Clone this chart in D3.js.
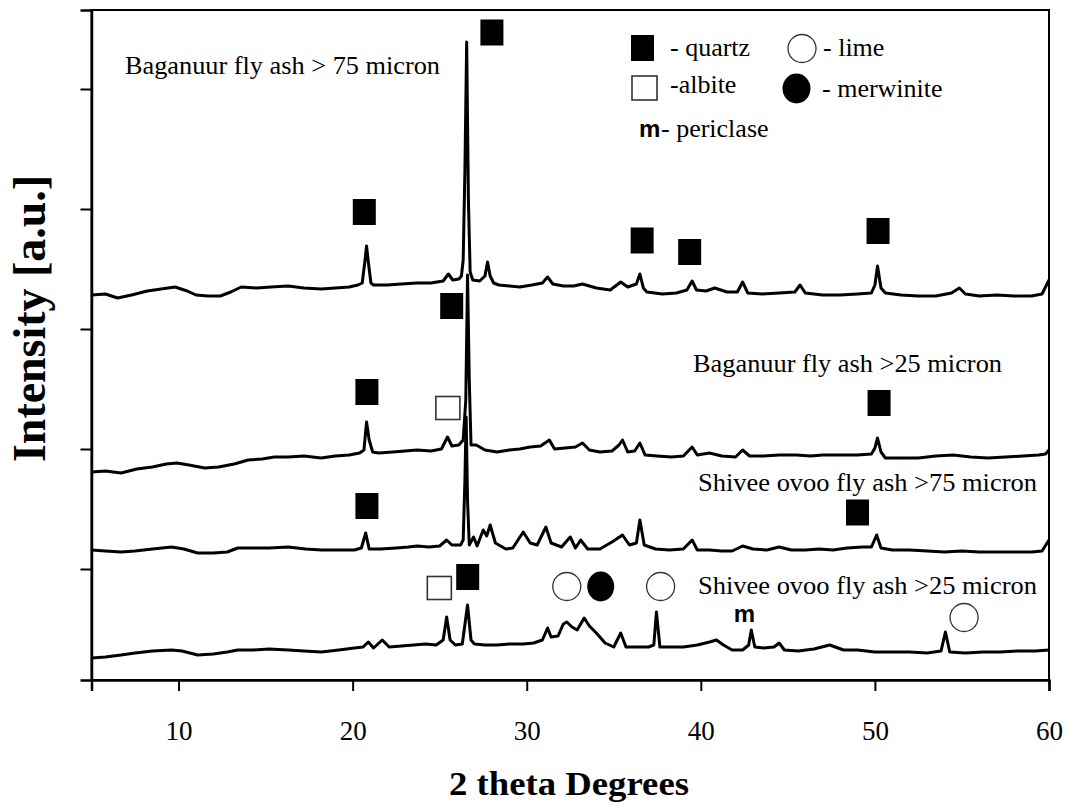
<!DOCTYPE html>
<html><head><meta charset="utf-8">
<script src="https://cdn.jsdelivr.net/npm/d3@7"></script>
<style>body{margin:0;background:#fff}svg{display:block}
.serif{font-family:"Liberation Serif","Times New Roman",Times,serif}
.sans{font-family:"Liberation Sans",Arial,Helvetica,sans-serif}</style>
</head><body><svg id="chart" width="1067" height="806"></svg>
<script>
// ---- data (2-theta degrees, intensity a.u. with stacking offset) ----
const xTicks = [10, 20, 30, 40, 50, 60];
const yTicks = [120, 240, 360, 480, 600];

const baganuur75 = [[5.0,394],[5.8,395],[6.5,391],[7.3,394],[8.2,398],[9.0,400],[9.8,402],[10.5,398],[11.0,394],[11.7,393],[12.4,393],[13.0,397],[13.6,402],[14.5,401],[15.3,402],[16.3,403],[17.2,401],[18.2,400],[19.0,401],[19.8,402],[20.3,404],[20.55,406],[20.7,427],[20.8,443],[20.9,427],[21.05,406],[21.2,404],[22.0,404],[22.8,405],[23.7,406],[24.5,406],[25.2,408],[25.5,415],[25.75,409],[26.1,410],[26.25,413],[26.35,429],[26.45,519],[26.55,647],[26.65,489],[26.75,417],[26.9,409],[27.3,408],[27.6,413],[27.75,427],[27.9,413],[28.1,406],[28.4,404],[29.0,403],[29.6,402],[30.3,404],[30.9,406],[31.2,412],[31.5,405],[32.1,403],[32.7,403],[33.2,405],[34.0,401],[34.8,399],[35.4,407],[35.8,402],[36.3,405],[36.5,415],[36.7,401],[36.9,397],[37.8,395],[38.6,396],[39.2,399],[39.5,408],[39.75,399],[40.3,398],[40.8,401],[41.5,397],[42.1,397],[42.4,407],[42.7,396],[43.5,395],[44.5,396],[45.4,397],[45.7,404],[46.0,396],[47.0,394],[48.0,394],[49.0,395],[49.8,396],[50.0,404],[50.15,423],[50.35,401],[50.6,396],[51.5,394],[52.5,393],[53.5,393],[54.4,396],[54.85,401],[55.2,395],[56.0,393],[57.0,394],[58.0,393],[59.0,393],[59.6,395],[60.0,409]];

const baganuur25 = [[5.0,217],[5.8,218],[6.7,216],[7.6,220],[8.5,222],[9.3,225],[9.9,226],[10.6,224],[11.5,221],[12.3,222],[13.2,225],[14.0,229],[14.8,230],[15.5,232],[16.3,232],[17.2,233],[18.2,231],[19.0,233],[19.8,234],[20.4,236],[20.65,239],[20.8,267],[20.95,249],[21.15,237],[21.5,236],[22.3,237],[23.0,238],[23.7,239],[24.5,238],[25.1,240],[25.45,252],[25.7,243],[26.1,244],[26.35,249],[26.5,289],[26.6,414],[26.7,309],[26.8,244],[27.1,244],[27.6,239],[28.3,237],[29.0,239],[29.6,240],[30.2,242],[30.8,243],[31.3,249],[31.6,240],[32.2,241],[32.8,242],[33.2,246],[33.6,239],[34.2,237],[34.9,238],[35.3,244],[35.5,249],[35.8,237],[36.2,238],[36.5,246],[36.8,234],[37.5,233],[38.3,232],[39.0,233],[39.5,242],[39.8,234],[40.5,236],[41.2,233],[42.0,232],[42.4,239],[42.8,233],[43.6,233],[44.5,234],[45.5,234],[46.3,233],[47.0,234],[48.0,234],[49.0,234],[49.8,235],[50.0,241],[50.15,251],[50.35,237],[50.6,231],[51.5,231],[52.5,231],[53.5,233],[54.5,234],[55.5,232],[56.5,231],[57.5,232],[58.5,233],[59.4,234],[59.8,235],[60.0,239]];

const shivee75 = [[5.0,139],[5.8,138],[6.7,137],[7.5,138],[8.5,140],[9.6,142],[10.3,140],[11.1,136],[12.0,136],[12.8,137],[13.4,141],[14.2,141],[15.2,141],[16.3,142],[17.3,140],[18.2,139],[19.2,139],[20.1,139],[20.5,141],[20.75,156],[20.95,140],[21.6,140],[22.5,141],[23.2,142],[23.7,143],[24.4,142],[25.0,143],[25.4,149],[25.7,144],[26.2,144],[26.35,149],[26.45,209],[26.52,272],[26.6,189],[26.7,144],[26.95,152],[27.15,143],[27.5,159],[27.7,153],[27.9,164],[28.2,146],[28.8,140],[29.2,141],[29.8,157],[30.2,146],[30.6,144],[31.1,162],[31.4,146],[32.0,142],[32.5,152],[32.8,141],[33.1,149],[33.5,140],[34.2,140],[34.9,147],[35.5,154],[35.9,144],[36.3,146],[36.5,169],[36.75,144],[37.4,140],[38.2,139],[39.0,140],[39.5,149],[39.8,139],[40.5,139],[41.2,138],[41.8,138],[42.4,143],[43.0,140],[43.8,139],[44.5,142],[45.2,139],[46.0,139],[46.8,140],[47.6,139],[48.4,141],[49.3,142],[49.8,142],[50.1,154],[50.35,141],[51.0,139],[52.0,139],[53.0,138],[54.0,137],[55.0,138],[56.0,137],[57.0,137],[58.0,137],[59.0,137],[59.6,138],[60.0,149]];

const shivee25 = [[5.0,31],[5.8,32],[6.7,34],[7.5,36],[8.5,38],[9.6,39],[10.2,38],[11.1,34],[12.0,35],[12.8,37],[13.4,39],[14.3,39],[15.2,40],[16.3,39],[17.2,38],[18.2,37],[19.2,39],[20.1,41],[20.6,42],[20.9,47],[21.2,41],[21.7,49],[22.1,42],[22.8,43],[23.5,44],[24.2,45],[24.8,44],[25.2,49],[25.4,72],[25.6,49],[25.9,44],[26.3,45],[26.6,84],[26.8,49],[27.0,45],[27.6,44],[28.3,44],[29.0,45],[29.8,45],[30.4,46],[30.9,49],[31.2,61],[31.4,52],[31.8,53],[32.1,65],[32.3,67],[32.6,62],[32.9,59],[33.3,71],[33.6,63],[34.0,56],[34.5,46],[35.0,42],[35.4,56],[35.7,42],[36.3,42],[37.0,42],[37.3,44],[37.45,77],[37.65,42],[38.3,42],[39.0,42],[39.8,44],[40.5,47],[40.9,49],[41.3,44],[41.8,39],[42.4,39],[42.75,44],[42.9,59],[43.1,42],[43.6,41],[44.2,42],[44.5,46],[44.8,39],[45.6,38],[46.5,40],[47.4,44],[48.2,39],[49.0,39],[50.0,37],[51.0,37],[52.0,37],[53.0,36],[53.8,38],[54.05,57],[54.3,37],[55.2,36],[56.2,37],[57.2,37],[58.2,38],[59.2,38],[60.0,39]];

const traceNames = ["Baganuur fly ash > 75 micron", "Baganuur fly ash >25 micron", "Shivee ovoo fly ash >75 micron", "Shivee ovoo fly ash >25 micron"];

// phase markers [2theta, intensity]
const quartzMarks = [[28.0,656.5],[20.67,477],[36.63,448.5],[39.36,437],[50.18,458],[25.69,383],[20.82,297],[50.24,286],[20.82,183],[49.0,176.5],[26.61,112]];
const albiteMarks = [[25.47,281],[24.98,101]];
const limeMarks = [[32.30,102.5],[37.69,102.5],[55.12,71.5]];
const merwiniteMarks = [[34.25,102.5]];
const periclaseMarks = [[42.5,67]];

const legendItems = ["- quartz", "- lime", "-albite", "- merwinite", "- periclase"];

// ---- drawing ----
const svg = d3.select("#chart");
const W = 1067, H = 806;
const m = {left: 91.5, right: 1049, top: 10, bottom: 680};

svg.append("rect").attr("width", W).attr("height", H).attr("fill", "#fff");

const x = d3.scaleLinear().domain([5, 60]).range([m.left, m.right]);
const y = d3.scaleLinear().domain([9, 679]).range([m.bottom, m.top]);

// traces
const line = d3.line().x(d => x(d[0])).y(d => y(d[1]));
[baganuur75, baganuur25, shivee75, shivee25].forEach(tr => {
  svg.append("path").datum(tr).attr("d", line)
    .attr("fill", "none").attr("stroke", "#000")
    .attr("stroke-width", 3).attr("stroke-linejoin", "round");
});

// frame
svg.append("rect").attr("x", m.left).attr("y", m.top)
  .attr("width", m.right - m.left).attr("height", m.bottom - m.top)
  .attr("fill", "none").attr("stroke", "#000").attr("stroke-width", 2);

// x axis
const xAxis = svg.append("g").attr("transform", `translate(0,${m.bottom})`)
  .call(d3.axisBottom(x).tickValues(xTicks).tickSize(11).tickPadding(30).tickFormat(d3.format("d")));
xAxis.select(".domain").attr("stroke-width", 2.5);
xAxis.selectAll(".tick line").attr("stroke-width", 2);
xAxis.selectAll(".tick text").attr("class", "serif").attr("font-family", null)
  .style("font-size", "27px").attr("fill", "#000");

// y axis (no labels)
const yAxis = svg.append("g").attr("transform", `translate(${m.left},0)`)
  .call(d3.axisLeft(y).tickValues(yTicks).tickSize(11).tickFormat(""));
yAxis.select(".domain").attr("stroke-width", 2.5);
yAxis.selectAll(".tick line").attr("stroke-width", 2);

// axis titles
svg.append("text").attr("class", "serif").attr("x", 569).attr("y", 795).attr("text-anchor", "middle")
  .style("font-weight", "bold").style("font-size", "34px")
  .attr("textLength", 240).attr("lengthAdjust", "spacingAndGlyphs")
  .text("2 theta Degrees");
svg.append("text").attr("class", "serif").attr("transform", "translate(45,318.5) rotate(-90)").attr("text-anchor", "middle")
  .style("font-weight", "bold").style("font-size", "46px")
  .attr("textLength", 287).attr("lengthAdjust", "spacingAndGlyphs")
  .text("Intensity [a.u.]");

// sample labels
const labelPos = [[125, 74, 315], [693, 372, 309], [698, 491, 339], [698, 594, 339]];
traceNames.forEach((t, i) => {
  svg.append("text").attr("class", "serif").attr("x", labelPos[i][0]).attr("y", labelPos[i][1])
    .style("font-size", "26px")
    .attr("textLength", labelPos[i][2]).attr("lengthAdjust", "spacingAndGlyphs")
    .text(t);
});

// markers
const g = svg.append("g");
g.selectAll(".q").data(quartzMarks).join("rect")
  .attr("x", d => x(d[0]) - 11.5).attr("y", d => y(d[1]) - 13)
  .attr("width", 23).attr("height", 26).attr("fill", "#000");
g.selectAll(".a").data(albiteMarks).join("rect")
  .attr("x", d => x(d[0]) - 12).attr("y", d => y(d[1]) - 11.5)
  .attr("width", 24).attr("height", 23).attr("fill", "#fff")
  .attr("stroke", "#333").attr("stroke-width", 1.6);
g.selectAll(".l").data(limeMarks).join("circle")
  .attr("cx", d => x(d[0])).attr("cy", d => y(d[1])).attr("r", 14)
  .attr("fill", "#fff").attr("stroke", "#333").attr("stroke-width", 1.3);
g.selectAll(".mw").data(merwiniteMarks).join("ellipse")
  .attr("cx", d => x(d[0])).attr("cy", d => y(d[1])).attr("rx", 13.5).attr("ry", 15)
  .attr("fill", "#000");
g.selectAll(".p").data(periclaseMarks).join("text")
  .attr("class", "sans")
  .attr("x", d => x(d[0])).attr("y", d => y(d[1])).attr("text-anchor", "middle")
  .style("font-weight", "bold").style("font-size", "24px")
  .text("m");

// legend
const lg = svg.append("g");
const lt = (xx, yy, s) => lg.append("text").attr("class", "serif").attr("x", xx).attr("y", yy).style("font-size", "26px").text(s);
lg.append("rect").attr("x", 631).attr("y", 35).attr("width", 23).attr("height", 26).attr("fill", "#000");
lt(670, 56, legendItems[0]);
lg.append("circle").attr("cx", 802).attr("cy", 48.5).attr("r", 14).attr("fill", "#fff").attr("stroke", "#333").attr("stroke-width", 1.3);
lt(823, 56, legendItems[1]);
lg.append("rect").attr("x", 632).attr("y", 76).attr("width", 25).attr("height", 24).attr("fill", "#fff").attr("stroke", "#333").attr("stroke-width", 1.6);
lt(670, 93, legendItems[2]);
lg.append("ellipse").attr("cx", 796.5).attr("cy", 88.5).attr("rx", 14).attr("ry", 15).attr("fill", "#000");
lt(822, 97, legendItems[3]);
lg.append("text").attr("class", "sans").attr("x", 639).attr("y", 137).style("font-weight", "bold").style("font-size", "24px").text("m");
lt(661, 137, legendItems[4]);
</script>
</body></html>
